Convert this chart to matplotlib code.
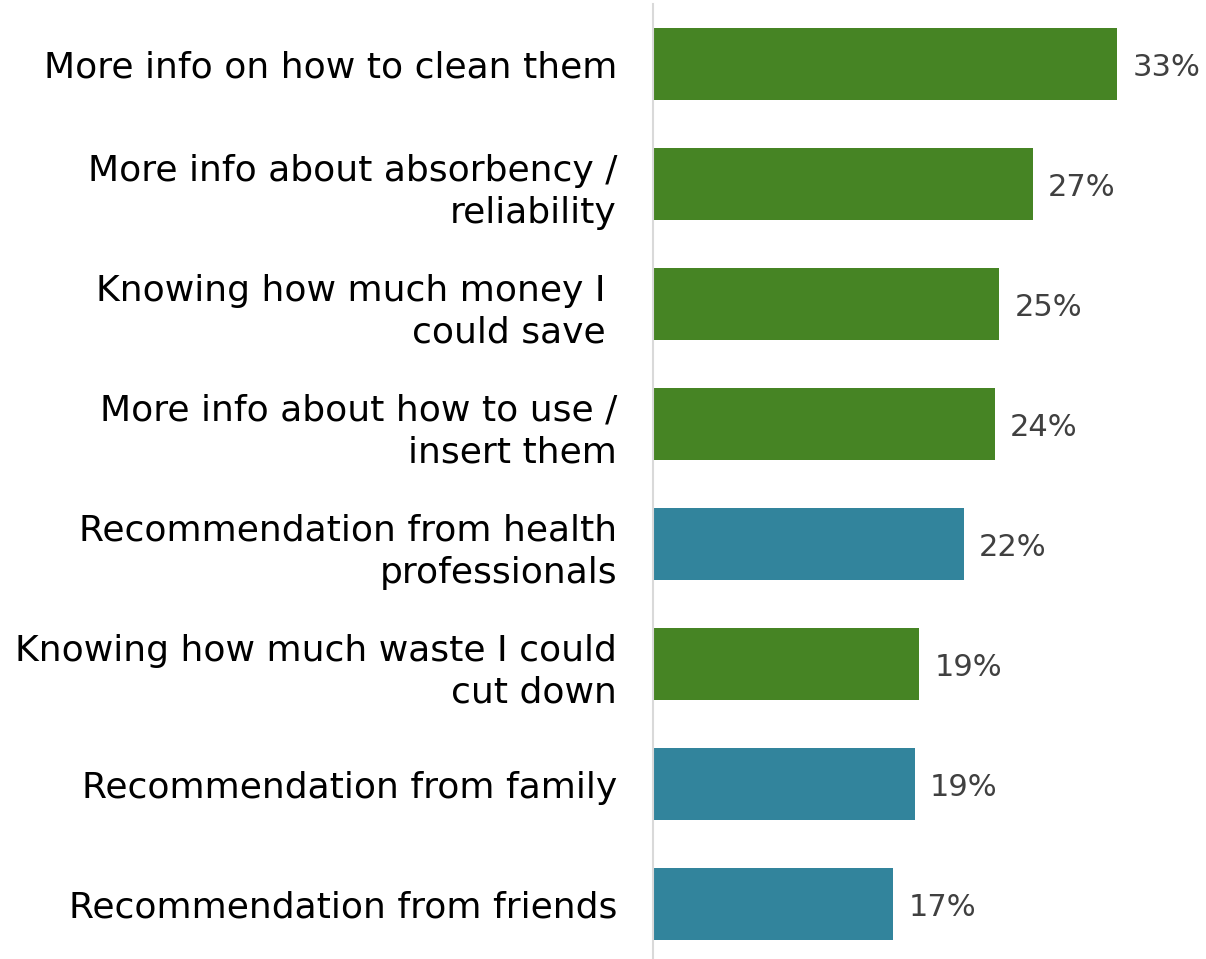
import matplotlib.pyplot as plt

# ── Datos ─────────────────────────────────────────────────────────────────────
labels = [
    "More info on how to clean them",
    "More info about absorbency /\nreliability",
    "Knowing how much money I \ncould save ",
    "More info about how to use /\ninsert them",
    "Recommendation from health\nprofessionals",
    "Knowing how much waste I could\ncut down",
    "Recommendation from family",
    "Recommendation from friends",
]
values = [33.0, 27.0, 24.6, 24.3, 22.1, 18.9, 18.6, 17.1]
groups = ["info", "info", "info", "info", "rec", "info", "rec", "rec"]

COLORS = {"info": "#468424", "rec": "#32849C"}
FONT = "DejaVu Sans"

fig = plt.figure(figsize=(12.06, 9.59), dpi=100)
ax = fig.add_axes([653 / 1206, 0, 1 - 653 / 1206, 1 - 4 / 959])

y = range(len(labels))
bars = ax.barh(y, values, height=0.6, color=[COLORS[g] for g in groups])

for bar, val in zip(bars, values):
    ax.text(bar.get_width() + 1.1, bar.get_y() + bar.get_height() / 2 + 0.03,
            f"{val:.0f}%", va="center", ha="left", fontsize=22,
            color="#404040", family=FONT)

ax.set_yticks(list(y))
ax.set_yticklabels(labels, fontsize=26, family=FONT, color="#000000",
                   linespacing=1.3)
ax.tick_params(axis="y", length=0, pad=26)
ax.set_xticks([])
ax.set_xlim(0, 39.33)
ax.set_ylim(7.458, -0.5)

for s in ["top", "right", "bottom"]:
    ax.spines[s].set_visible(False)
ax.spines["left"].set_color("#D9D9D9")
ax.spines["left"].set_linewidth(1.5)

fig.savefig("out.png", dpi=100)
